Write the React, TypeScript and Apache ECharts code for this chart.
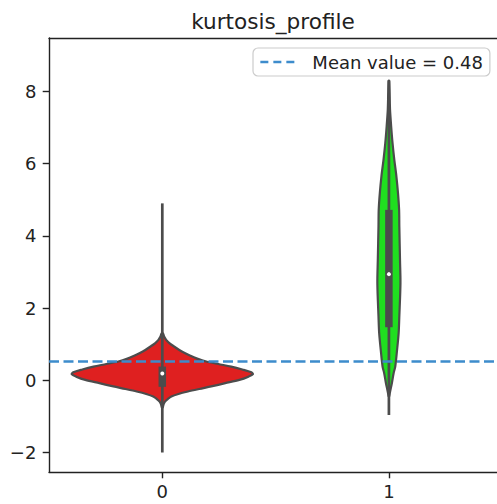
import React, { useEffect, useRef } from "react";
import * as echarts from "echarts";

const categories = ["0", "1"];
const xTicks = [0, 1];
const yTicks = [-2, 0, 2, 4, 6, 8];

// Violin outlines: y levels and half-widths (in category units)
const violin0Y = [-0.75, -0.66, -0.59, -0.52, -0.45, -0.38, -0.31, -0.24, -0.17, -0.08, 0.01, 0.1, 0.17, 0.22, 0.3, 0.38, 0.45, 0.52, 0.6, 0.68, 0.75, 0.84, 0.94, 1.03, 1.12, 1.21, 1.3];
const violin0W = [0.002, 0.006, 0.012, 0.024, 0.04, 0.071, 0.113, 0.163, 0.216, 0.278, 0.34, 0.38, 0.4, 0.393, 0.353, 0.304, 0.247, 0.194, 0.154, 0.124, 0.101, 0.075, 0.051, 0.031, 0.017, 0.008, 0.003];
const violin1Y = [-0.45, -0.35, -0.2, -0.08, 0.2, 0.38, 0.84, 1.31, 1.77, 2.69, 3.33, 4.26, 4.72, 5.19, 5.65, 6.1, 6.57, 7.03, 7.49, 7.96, 8.3];
const violin1W = [0.001, 0.004, 0.009, 0.013, 0.021, 0.028, 0.036, 0.043, 0.046, 0.051, 0.049, 0.046, 0.045, 0.04, 0.033, 0.024, 0.016, 0.01, 0.005, 0.003, 0.001];

const whiskers = [[-2.0, 4.9], [-0.96, 8.3]];
const quartiles = [[-0.18, 0.38], [1.47, 4.72]];
const medians = [0.19, 2.94];

const meanLabel = "Mean value = 0.48";
const meanLineValue = 0.52;

const violinColors = ["#df2020", "#20df20"];
const GRAY = "#4c4c4c";
const FONT = "DejaVu Sans";
const X_MIN = -0.5;
const X_MAX = 1.477;
const Y_MIN = -2.54;
const Y_MAX = 9.48;

export default function App() {
  const ref = useRef<HTMLDivElement>(null);
  useEffect(() => {
    const chart = echarts.init(ref.current!, null, { renderer: "svg" });
    const profiles = [
      { ys: violin0Y, ws: violin0W },
      { ys: violin1Y, ws: violin1W },
    ];
    const renderItem = (params: any, api: any) => {
      const i = api.value(0);
      const p = profiles[i];
      const pts: number[][] = [];
      for (let k = 0; k < p.ys.length; k++) pts.push(api.coord([i - p.ws[k], p.ys[k]]));
      for (let k = p.ys.length - 1; k >= 0; k--) pts.push(api.coord([i + p.ws[k], p.ys[k]]));
      const wLo = api.coord([i, whiskers[i][0]]);
      const wHi = api.coord([i, whiskers[i][1]]);
      const qLo = api.coord([i, quartiles[i][0]]);
      const qHi = api.coord([i, quartiles[i][1]]);
      const med = api.coord([i, medians[i]]);
      return {
        type: "group",
        children: [
          {
            type: "polygon",
            shape: { points: pts, smooth: 0.3 },
            style: { fill: violinColors[i], stroke: GRAY, lineWidth: 2.2 },
          },
          {
            type: "line",
            shape: { x1: wLo[0], y1: wLo[1], x2: wHi[0], y2: wHi[1] },
            style: { stroke: GRAY, lineWidth: 2.7 },
          },
          {
            type: "line",
            shape: { x1: qLo[0], y1: qLo[1], x2: qHi[0], y2: qHi[1] },
            style: { stroke: GRAY, lineWidth: 7.5 },
          },
          {
            type: "circle",
            shape: { cx: med[0], cy: med[1], r: 2 },
            style: { fill: "#ffffff" },
          },
        ],
      };
    };
    chart.setOption({
      animation: false,
      textStyle: { fontFamily: FONT },
      graphic: [
        {
          type: "text",
          x: 273,
          y: 21,
          style: {
            text: "kurtosis_profile",
            font: `21.6px "${FONT}"`,
            fill: "#222",
            textAlign: "center",
            textVerticalAlign: "middle",
          },
        },
      ],
      legend: {
        data: [meanLabel],
        left: 253,
        top: 48,
        padding: [5, 7, 5, 6],
        itemWidth: 37,
        itemHeight: 14,
        itemStyle: { opacity: 0 },
        lineStyle: { type: [8, 5], width: 2.7 },
        backgroundColor: "rgba(255,255,255,0.8)",
        borderColor: "#cccccc",
        borderWidth: 1.2,
        borderRadius: 5,
        textStyle: { fontFamily: FONT, fontSize: 18, color: "#222", padding: [0, 0, 0, 10] },
      },
      grid: { left: 49, right: 0, top: 38, bottom: 32 },
      xAxis: [
        {
          type: "value",
          min: X_MIN,
          max: X_MAX,
          axisLine: { show: true, onZero: false, lineStyle: { color: "#222", width: 1.4 } },
          axisTick: { show: true, length: 6.3, customValues: xTicks, lineStyle: { color: "#222", width: 1.4 } },
          axisLabel: {
            customValues: xTicks,
            formatter: (v: number) => categories[Math.round(v)] ?? "",
            fontFamily: FONT,
            fontSize: 18,
            color: "#222",
            margin: 10,
          },
          splitLine: { show: false },
        },
        {
          type: "value",
          position: "top",
          min: X_MIN,
          max: X_MAX,
          axisLine: { show: true, onZero: false, lineStyle: { color: "#222", width: 1.4 } },
          axisTick: { show: false },
          axisLabel: { show: false },
          splitLine: { show: false },
        },
      ],
      yAxis: {
        type: "value",
        min: Y_MIN,
        max: Y_MAX,
        axisLine: { show: true, onZero: false, lineStyle: { color: "#222", width: 1.4 } },
        axisTick: { show: true, length: 6.3, customValues: yTicks, lineStyle: { color: "#222", width: 1.4 } },
        axisLabel: {
          customValues: yTicks,
          formatter: (v: number) => String(v).replace("-", "\u2212"),
          fontFamily: FONT,
          fontSize: 18,
          color: "#222",
          margin: 12.6,
        },
        splitLine: { show: false },
      },
      series: [
        {
          type: "custom",
          name: "violins",
          renderItem,
          encode: { x: 0, y: 1 },
          data: categories.map((_, i) => [i, medians[i]]),
          z: 2,
        },
        {
          type: "line",
          name: meanLabel,
          data: [
            [X_MIN, meanLineValue],
            [X_MAX, meanLineValue],
          ],
          symbol: "none",
          lineStyle: { color: "#3d8ccc", width: 2.7, type: [10, 4.5] },
          itemStyle: { color: "#3d8ccc" },
          z: 3,
        },
      ],
    });
    return () => chart.dispose();
  }, []);
  return <div ref={ref} style={{ width: 497, height: 504, position: "absolute", left: 0, top: 0 }} />;
}
